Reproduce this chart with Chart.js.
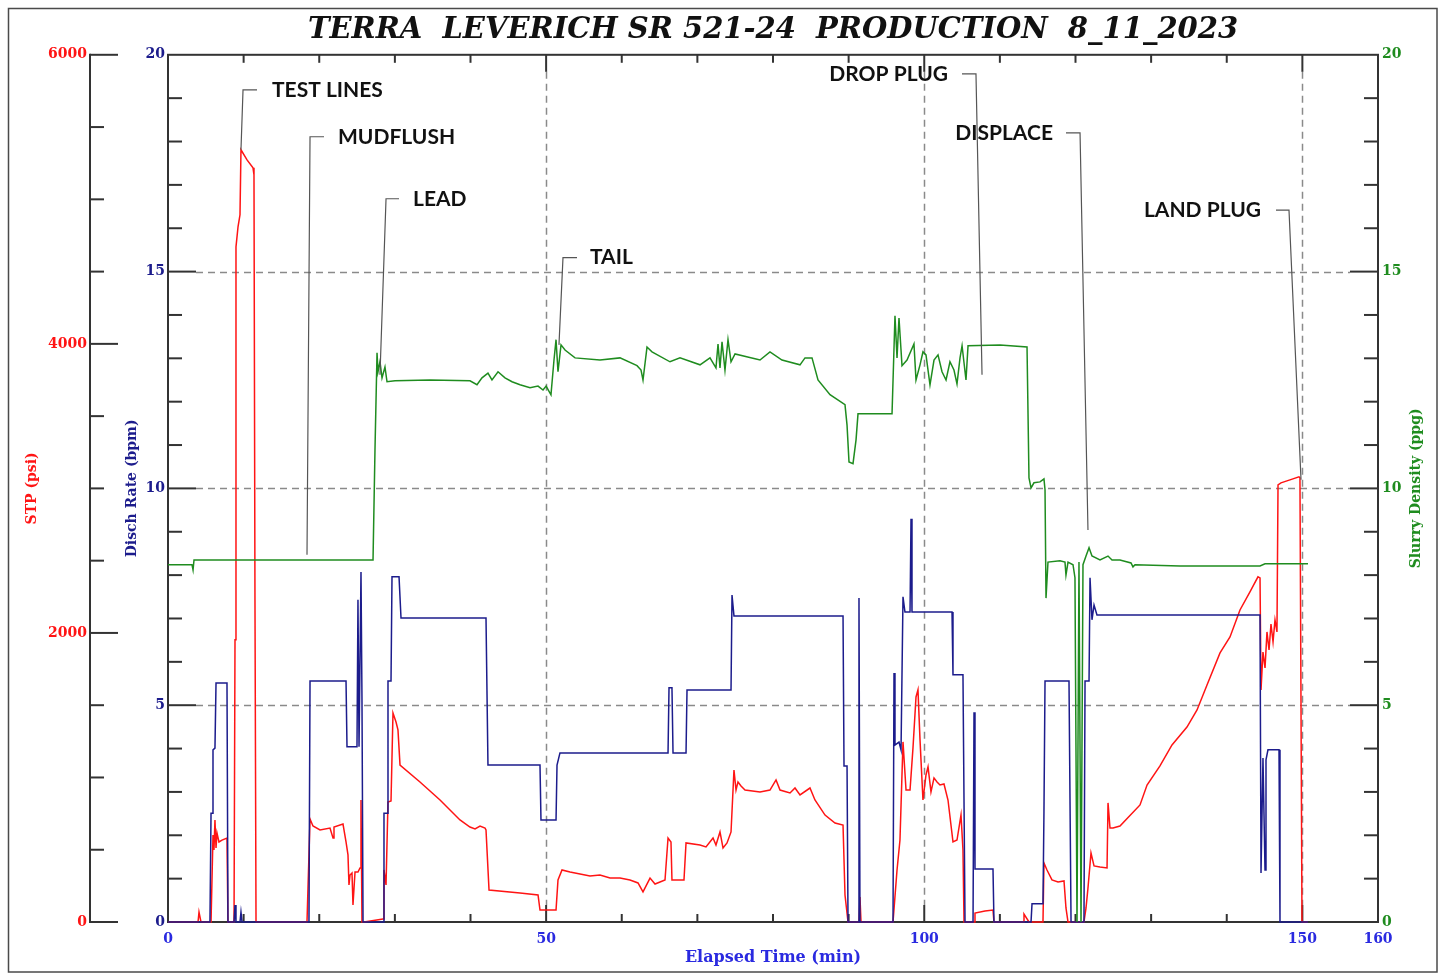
<!DOCTYPE html>
<html>
<head>
<meta charset="utf-8">
<script src="https://cdn.jsdelivr.net/npm/chart.js@4.4.0/dist/chart.umd.min.js"></script>
<style>
    html, body { margin: 0; padding: 0; background: #fff; }
    #wrap { width: 1442px; height: 974px; position: relative; }
</style>
</head>
<body>
<div id="wrap"><canvas id="chart"></canvas></div>
<script>
// STP (psi), red, outer left axis
const stpTime = [
    0, 3.97, 4.10, 4.36, 5.69, 5.95, 6.08, 6.21, 6.35, 6.48,
    6.74, 7.14, 7.80, 7.93, 8.73, 8.86, 8.99, 9.26, 9.52, 9.65,
    10.45, 11.24, 11.37, 11.50, 11.64, 18.38, 18.78, 19.17, 20.10, 21.42,
    21.82, 21.95, 23.14, 23.54, 23.80, 23.93, 24.07, 24.33, 24.46, 24.73,
    25.12, 25.39, 25.52, 25.65, 25.92, 28.43, 28.56, 28.83, 29.09, 29.49,
    29.75, 30.15, 30.41, 30.68, 33.32, 35.97, 38.61, 39.93, 40.60, 41.26,
    41.92, 42.05, 42.45, 46.55, 48.93, 49.19, 51.31, 51.57, 52.10, 53.16,
    55.80, 57.12, 58.45, 59.77, 61.09, 62.15, 62.81, 63.74, 64.40, 65.72,
    66.12, 66.51, 66.64, 68.23, 68.50, 70.35, 71.14, 72.07, 72.46, 72.99,
    73.39, 73.92, 74.45, 74.84, 75.11, 75.37, 75.77, 76.30, 78.28, 79.60,
    80.40, 80.93, 82.25, 82.91, 83.57, 84.89, 85.55, 86.88, 88.20, 89.26,
    89.52, 89.92, 91.37, 91.50, 91.64, 95.87, 96.40, 96.79, 97.19, 97.59,
    98.12, 98.51, 98.91, 99.17, 99.44, 99.83, 100.23, 100.50, 100.89, 101.29,
    101.69, 102.08, 102.61, 103.14, 103.80, 104.33, 104.86, 105.12, 105.26, 106.58,
    106.71, 108.03, 109.09, 109.22, 113.06, 113.19, 113.85, 115.70, 115.83, 116.23,
    116.89, 117.69, 118.48, 118.74, 119.01, 121.12, 121.39, 121.65, 122.05, 122.45,
    123.24, 124.17, 124.30, 124.56, 124.96, 125.88, 128.53, 129.46, 131.17, 132.76,
    134.74, 136.07, 137.39, 139.11, 140.43, 141.75, 143.07, 144.13, 144.40, 144.53,
    144.79, 145.06, 145.32, 145.59, 145.85, 146.12, 146.38, 146.64, 146.78, 147.17,
    148.36, 149.55, 149.68, 149.95, 150.7
];
const stpPsi = [
    0, 0, 69, 0, 0, 602, 498, 706, 512, 616,
    554, 567, 581, 0, 0, 1952, 4671, 4810, 4893, 5343,
    5273, 5218, 5169, 2228, 0, 0, 713, 664, 637, 650,
    581, 657, 678, 554, 464, 256, 325, 339, 118, 346,
    346, 374, 844, 0, 0, 21, 360, 256, 830, 837,
    1446, 1384, 1329, 1086, 969, 844, 706, 657, 644, 664,
    650, 637, 221, 201, 187, 83, 83, 291, 360, 346,
    318, 325, 304, 304, 291, 270, 208, 304, 263, 291,
    581, 554, 291, 291, 547, 533, 519, 581, 533, 623,
    512, 547, 623, 1052, 913, 969, 941, 913, 900, 913,
    983, 913, 893, 927, 879, 927, 844, 740, 685, 671,
    187, 0, 0, 173, 0, 0, 360, 567, 1246, 913,
    913, 1204, 1557, 1606, 1260, 844, 1017, 1073, 900, 997,
    969, 948, 955, 844, 554, 567, 740, 498, 0, 0,
    62, 76, 83, 0, 0, 55, 0, 0, 408, 360,
    291, 277, 284, 97, 0, 0, 97, 235, 477, 388,
    381, 374, 824, 651, 651, 664, 810, 948, 1080, 1225,
    1349, 1467, 1640, 1862, 1972, 2159, 2284, 2388, 2381, 1606,
    1868, 1758, 2007, 1882, 2062, 1938, 2090, 2007, 3024, 3038,
    3059, 3080, 3073, 0, 0
];

// Disch rate (bpm), navy, inner left axis
const rateTime = [
    0, 5.55, 5.69, 5.82, 5.95, 6.21, 6.35, 7.80, 7.93, 8.73,
    8.86, 8.99, 9.52, 9.65, 9.79, 18.64, 18.78, 23.54, 23.67, 24.99,
    25.12, 25.26, 25.52, 25.65, 25.79, 28.43, 28.56, 28.96, 29.09, 29.49,
    29.62, 30.55, 30.81, 42.05, 42.31, 49.19, 49.32, 51.31, 51.44, 51.83,
    66.12, 66.25, 66.64, 66.78, 68.50, 68.63, 74.45, 74.58, 74.84, 89.26,
    89.39, 89.79, 89.92, 91.24, 91.37, 91.50, 95.87, 96.00, 96.13, 96.66,
    96.93, 97.19, 97.45, 98.12, 98.25, 98.38, 103.67, 103.80, 105.12, 105.39,
    106.45, 106.58, 106.71, 109.09, 109.22, 114.12, 114.25, 115.70, 115.83, 115.97,
    119.14, 119.41, 121.12, 121.26, 121.79, 121.92, 122.18, 122.45, 122.84, 144.40,
    144.53, 144.79, 145.06, 145.19, 145.45, 146.91, 147.04, 150.74
];
const rateBpm = [
    0, 0, 2.51, 2.51, 3.97, 4.01, 5.51, 5.51, 0, 0,
    0.39, 0, 0, 0.23, 0, 0, 5.56, 5.56, 4.04, 4.04,
    7.43, 4.04, 8.07, 5.12, 0, 0, 2.51, 2.51, 5.56, 5.56,
    7.96, 7.96, 7.01, 7.01, 3.62, 3.62, 2.35, 2.35, 3.62, 3.90,
    3.90, 5.40, 5.40, 3.90, 3.90, 5.35, 5.35, 7.54, 7.06, 7.06,
    3.60, 3.60, 0, 0, 7.47, 0, 0, 5.74, 4.08, 4.15,
    3.97, 7.50, 7.15, 7.15, 9.30, 7.15, 7.15, 5.70, 5.70, 0,
    0, 4.84, 1.22, 1.22, 0, 0, 0.42, 0.42, 2.54, 5.56,
    5.56, 0, 0, 5.56, 5.56, 7.94, 6.97, 7.31, 7.08, 7.08,
    1.13, 3.78, 1.20, 3.74, 3.97, 3.97, 0, 0
];

// Slurry density (ppg), green, right axis
const densTime = [
    0, 3.17, 3.31, 3.44, 27.11, 27.37, 27.64, 27.77, 28.03, 28.30,
    28.69, 28.96, 30.02, 34.64, 39.93, 40.86, 41.52, 42.31, 42.84, 43.64,
    44.56, 45.49, 46.55, 47.87, 48.93, 49.59, 50.00, 50.64, 51.04, 51.31,
    51.57, 51.97, 52.50, 53.82, 57.12, 59.77, 62.02, 62.55, 62.81, 63.34,
    64.00, 66.38, 67.70, 70.35, 71.67, 72.46, 72.73, 72.99, 73.26, 73.65,
    74.05, 74.45, 74.98, 78.28, 79.60, 81.19, 83.57, 84.23, 85.16, 85.95,
    87.54, 89.52, 89.79, 90.05, 90.58, 90.98, 91.24, 95.74, 96.13, 96.40,
    96.66, 97.06, 97.72, 98.64, 98.91, 99.44, 99.83, 100.23, 100.76, 101.29,
    101.82, 102.35, 102.88, 103.40, 103.93, 104.33, 104.73, 105.00, 105.52, 105.79,
    110.02, 113.59, 113.85, 114.12, 114.51, 115.31, 115.83, 115.97, 116.10, 116.36,
    117.95, 118.61, 118.74, 119.01, 119.67, 119.93, 120.20, 120.46, 120.73, 120.99,
    121.39, 121.79, 122.18, 123.24, 124.30, 124.83, 125.88, 127.34, 127.60, 127.87,
    133.82, 144.40, 145.06, 150.74
];
const densPpg = [
    8.24, 8.24, 8.12, 8.35, 8.35, 10.89, 13.13, 12.69, 12.92, 12.55,
    12.80, 12.46, 12.48, 12.50, 12.48, 12.39, 12.55, 12.66, 12.50, 12.69,
    12.55, 12.46, 12.39, 12.32, 12.36, 12.27, 12.36, 12.16, 12.96, 13.43,
    12.69, 13.31, 13.19, 13.01, 12.96, 13.01, 12.83, 12.73, 12.50, 13.26,
    13.15, 12.92, 13.01, 12.85, 13.01, 12.78, 13.33, 12.78, 13.38, 12.73,
    13.43, 12.92, 13.10, 12.96, 13.15, 12.96, 12.85, 13.01, 13.01, 12.50,
    12.16, 11.93, 11.46, 10.61, 10.57, 11.12, 11.72, 11.72, 13.98, 13.01,
    13.93, 12.83, 12.96, 13.33, 12.50, 12.85, 13.15, 13.08, 12.39, 12.96,
    13.08, 12.69, 12.50, 12.92, 12.73, 12.41, 13.01, 13.29, 12.50, 13.29,
    13.31, 13.26, 10.24, 10.01, 10.13, 10.15, 10.22, 9.97, 7.47, 8.30,
    8.33, 8.30, 8.00, 8.30, 8.24, 7.94, 0, 8.30, 0, 8.24,
    8.44, 8.63, 8.44, 8.35, 8.44, 8.35, 8.35, 8.28, 8.19, 8.24,
    8.21, 8.21, 8.26, 8.26
];

// event notes: text anchor, leader elbow and tip (time in min, height in bpm units)
const noteLabels = ['TEST LINES', 'MUDFLUSH', 'LEAD', 'TAIL', 'DROP PLUG', 'DISPLACE', 'LAND PLUG'];
const noteAlign = ['left', 'left', 'left', 'left', 'right', 'right', 'right'];
const noteTextTime = [13.75, 22.48, 32.40, 55.80, 103.14, 117.02, 144.53];
const noteTextRate = [19.19, 18.11, 16.68, 15.32, 19.56, 18.20, 16.42];
const noteTabTime = [11.77, 20.63, 30.55, 54.08, 104.99, 118.74, 146.51];
const noteElbowTime = [9.92, 18.78, 28.83, 52.23, 106.84, 120.60, 148.23];
const noteTipTime = [9.65, 18.38, 28.03, 51.70, 107.64, 121.65, 149.82];
const noteTipRate = [17.81, 8.47, 12.62, 13.31, 12.62, 9.04, 10.20];

const TITLE = 'TERRA  LEVERICH SR 521-24  PRODUCTION  8_11_2023';

const COLORS = {
    stp: '#ff1414',
    rate: '#1c1c8c',
    dens: '#1f8c1f',
    timeText: '#2a2ae0',
    axis: '#333333',
    grid: '#8a8a8a',
    leader: '#555555'
};

const SERIF = 'DejaVu Serif';

const toPoints = (xs, ys) => xs.map((x, i) => ({ x, y: ys[i] }));

const lineSet = (label, data, color, axis, order, width = 1.5) => ({
    label,
    data,
    yAxisID: axis,
    order,
    borderColor: color,
    backgroundColor: color,
    borderWidth: width,
    pointRadius: 0,
    showLine: true,
    tension: 0,
    clip: false
});

const leaderSets = noteLabels.map((label, i) => lineSet(
    label,
    [
        { x: noteTabTime[i], y: noteTextRate[i] },
        { x: noteElbowTime[i], y: noteTextRate[i] },
        { x: noteTipTime[i], y: noteTipRate[i] }
    ],
    COLORS.leader, 'yRate', 0, 1.2
));

const tickFont = { family: SERIF, size: 14, weight: 'bold' };
const titleFont = { family: SERIF, size: 14, weight: 'bold' };
const plainNumber = v => String(v);

const hiddenGrid = { display: false, drawTicks: false };

// dashed guides, inward ticks, frame, notes
const framePlugin = {
    id: 'frame',
    beforeDraw(chart) {
        const { ctx, width, height } = chart;
        ctx.save();
        ctx.fillStyle = '#ffffff';
        ctx.fillRect(0, 0, width, height);
        ctx.strokeStyle = '#4a4a4a';
        ctx.lineWidth = 1.5;
        ctx.strokeRect(8.5, 8.5, width - 5 - 8.5, height - 2 - 8.5);
        ctx.restore();
    },
    beforeDatasetsDraw(chart) {
        const { ctx, chartArea: a, scales } = chart;
        const { x, yRate, yStp } = scales;
        ctx.save();

        // dashed grid
        ctx.strokeStyle = COLORS.grid;
        ctx.lineWidth = 1.5;
        ctx.setLineDash([7, 5]);
        [5, 10, 15].forEach(v => {
            const py = Math.round(yRate.getPixelForValue(v)) + 0.5;
            ctx.beginPath();
            ctx.moveTo(a.left + 28, py);
            ctx.lineTo(a.right - 28, py);
            ctx.stroke();
        });
        [50, 100, 150].forEach(v => {
            const px = Math.round(x.getPixelForValue(v)) + 0.5;
            ctx.beginPath();
            ctx.moveTo(px, a.top + 17);
            ctx.lineTo(px, a.bottom - 17);
            ctx.stroke();
        });
        ctx.setLineDash([]);

        // frame and ticks
        ctx.strokeStyle = COLORS.axis;
        ctx.lineWidth = 2;
        ctx.strokeRect(a.left, a.top, a.right - a.left, a.bottom - a.top);

        const seg = (x1, y1, x2, y2) => {
            ctx.beginPath();
            ctx.moveTo(x1, y1);
            ctx.lineTo(x2, y2);
            ctx.stroke();
        };

        for (let v = 10; v < 160; v += 10) {
            const px = x.getPixelForValue(v);
            const len = v % 50 === 0 ? 17 : 8;
            seg(px, a.bottom, px, a.bottom - len);
            seg(px, a.top, px, a.top + len);
        }
        for (let v = 1; v < 20; v++) {
            const py = yRate.getPixelForValue(v);
            const len = v % 5 === 0 ? 28 : 14;
            seg(a.left, py, a.left + len, py);
            seg(a.right, py, a.right - len, py);
        }

        const stpX = yStp.right;
        seg(stpX, a.top - 1, stpX, a.bottom + 1);
        for (let v = 0; v <= 6000; v += 500) {
            const py = yStp.getPixelForValue(v);
            seg(stpX, py, stpX + (v % 2000 === 0 ? 28 : 14), py);
        }
        ctx.restore();
    },
    afterDraw(chart) {
        const { ctx, chartArea: a, scales } = chart;
        const { x, yRate } = scales;
        ctx.save();

        // event notes
        ctx.fillStyle = '#111111';
        ctx.font = 'bold 21px Lato';
        ctx.textBaseline = 'middle';
        noteLabels.forEach((label, i) => {
            ctx.textAlign = noteAlign[i];
            ctx.fillText(label, x.getPixelForValue(noteTextTime[i]), yRate.getPixelForValue(noteTextRate[i]));
        });

        // right axis title reads bottom-to-top
        ctx.translate(a.right + 38, (a.top + a.bottom) / 2);
        ctx.rotate(-Math.PI / 2);
        ctx.fillStyle = COLORS.dens;
        ctx.font = `bold 14px "${SERIF}"`;
        ctx.textAlign = 'center';
        ctx.fillText('Slurry Density (ppg)', 0, 0);
        ctx.restore();
    }
};

new Chart(document.getElementById('chart'), {
    type: 'scatter',
    data: {
        datasets: [
            ...leaderSets,
            lineSet('Slurry Density', toPoints(densTime, densPpg), COLORS.dens, 'yDens', 1),
            lineSet('Disch Rate', toPoints(rateTime, rateBpm), COLORS.rate, 'yRate', 2),
            lineSet('STP', toPoints(stpTime, stpPsi), COLORS.stp, 'yStp', 3)
        ]
    },
    plugins: [framePlugin],
    options: {
        responsive: true,
        maintainAspectRatio: false,
        animation: false,
        events: [],
        layout: { padding: 0 },
        plugins: {
            legend: { display: false },
            tooltip: { enabled: false },
            title: {
                display: true,
                text: TITLE,
                fullSize: false,
                color: '#111111',
                font: { family: SERIF, size: 29, weight: 'bold', style: 'italic' },
                padding: { top: 13, bottom: 7 }
            }
        },
        scales: {
            x: {
                type: 'linear',
                position: 'bottom',
                min: 0,
                max: 160,
                grid: hiddenGrid,
                border: { display: false },
                ticks: { stepSize: 50, color: COLORS.timeText, font: tickFont, padding: 9, maxRotation: 0, callback: plainNumber },
                title: {
                    display: true,
                    text: 'Elapsed Time (min)',
                    color: COLORS.timeText,
                    font: { family: SERIF, size: 16, weight: 'bold' },
                    padding: { top: 0, bottom: 7 }
                },
                afterFit: s => { s.height = 52; }
            },
            yRate: {
                type: 'linear',
                position: 'left',
                weight: 0,
                min: 0,
                max: 20,
                grid: hiddenGrid,
                border: { display: false },
                ticks: { stepSize: 5, color: COLORS.rate, font: tickFont, padding: 3, callback: plainNumber },
                title: {
                    display: true,
                    text: 'Disch Rate (bpm)',
                    color: COLORS.rate,
                    font: titleFont,
                    padding: { top: 34, bottom: 0 }
                },
                afterFit: s => { s.width = 78; }
            },
            yStp: {
                type: 'linear',
                position: 'left',
                weight: 1,
                min: 0,
                max: 6000,
                grid: hiddenGrid,
                border: { display: false },
                ticks: { stepSize: 2000, color: COLORS.stp, font: tickFont, padding: 3, callback: plainNumber },
                title: {
                    display: true,
                    text: 'STP (psi)',
                    color: COLORS.stp,
                    font: titleFont,
                    padding: { top: 24, bottom: 0 }
                },
                afterFit: s => { s.width = 90; }
            },
            yDens: {
                type: 'linear',
                position: 'right',
                min: 0,
                max: 20,
                grid: hiddenGrid,
                border: { display: false },
                ticks: { stepSize: 5, color: COLORS.dens, font: tickFont, padding: 4, callback: plainNumber },
                afterFit: s => { s.width = 64; }
            }
        }
    }
});
</script>
</body>
</html>
